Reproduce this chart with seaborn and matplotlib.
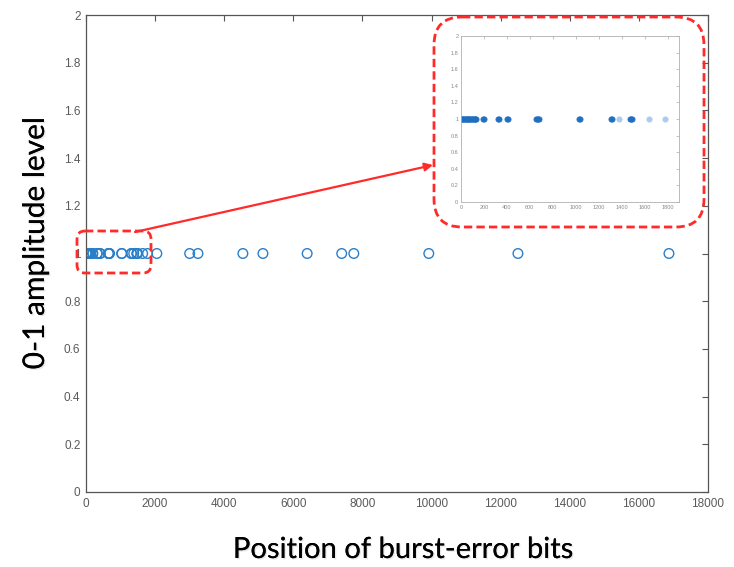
import matplotlib
matplotlib.use('Agg')
import matplotlib.pyplot as plt
import matplotlib.patheffects as pe
from matplotlib.patches import FancyBboxPatch
import seaborn as sns

# burst-error bit positions (all at amplitude level 1)
positions = [5, 12, 20, 28, 35, 42, 50, 58, 65, 72, 80, 88, 95, 102, 110, 118,
             125, 132, 190, 198, 320, 330, 400, 410, 650, 660, 670, 680, 1030,
             1040, 1310, 1320, 1470, 1480, 1490, 2050, 3000, 3240, 4540, 5120,
             6400, 7400, 7750, 9920, 12500, 16870]
faint_positions = [1380, 1640, 1780]
levels = [1] * len(positions)
faint_levels = [1] * len(faint_positions)

x_ticks = list(range(0, 18001, 2000))
y_ticks = [0, 0.2, 0.4, 0.6, 0.8, 1, 1.2, 1.4, 1.6, 1.8, 2]
y_labels = ['0', '0.2', '0.4', '0.6', '0.8', '1', '1.2', '1.4', '1.6', '1.8', '2']
inset_x_ticks = list(range(0, 1801, 200))

blue = '#2a7fc9'

sns.set_style('white')
plt.rcParams['font.family'] = ['Liberation Sans', 'DejaVu Sans']
plt.rcParams['xtick.direction'] = 'in'
plt.rcParams['ytick.direction'] = 'in'

fig = plt.figure(figsize=(7.34, 5.67), dpi=100)
W, H = 734, 567

# main axes
ax = fig.add_axes([86 / W, 1 - 492 / H, (708 - 86) / W, (492 - 15) / H])
all_x = positions + faint_positions
sns.scatterplot(x=all_x, y=[1] * len(all_x), ax=ax, marker='o', s=48,
                facecolors='none', edgecolor=blue, linewidth=1.0)
ax.set_xlim(0, 18000)
ax.set_ylim(0, 2)
ax.set_xticks(x_ticks)
ax.set_xticklabels([str(t) for t in x_ticks])
ax.set_yticks(y_ticks)
ax.set_yticklabels(y_labels)
ax.tick_params(axis='both', labelsize=8.5, labelcolor='#5a5a5a', color='#555555',
               length=4, width=0.8, top=True, right=True, pad=4)
for s in ax.spines.values():
    s.set_color('#555555')
    s.set_linewidth(0.9)

shadow = [pe.withSimplePatchShadow(offset=(1, -1), alpha=0.18, shadow_rgbFace='gray'),
          pe.Normal()]
fig.text(403 / W, 1 - 550 / H, 'Position of burst-error bits', ha='center', va='center',
         fontsize=21, family=['Lato', 'DejaVu Sans'], color='black', path_effects=shadow)
fig.text(35 / W, 1 - 243 / H, '0-1 amplitude level', ha='center', va='center', rotation=90,
         fontsize=21.5, family=['Lato', 'DejaVu Sans'], color='black', path_effects=shadow)

# inset (zoom of the first 1900 bits)
axin = fig.add_axes([461 / W, 1 - 202 / H, (679 - 461) / W, (202 - 36) / H])
sns.scatterplot(x=positions, y=levels, ax=axin, marker='o', s=14,
                color='#1f6fc0', edgecolor='#1f6fc0', linewidth=0.6, alpha=0.9)
sns.scatterplot(x=faint_positions, y=faint_levels, ax=axin, marker='o', s=14,
                color='#a9cdef', edgecolor='#a9cdef', linewidth=0.6)
axin.set_xlim(0, 1900)
axin.set_ylim(0, 2)
axin.set_xticks(inset_x_ticks)
axin.set_yticks(y_ticks)
axin.set_yticklabels(y_labels)
axin.tick_params(axis='both', labelsize=4, labelcolor='#888888', color='#aaaaaa',
                 length=2, width=0.5, top=True, right=True, pad=2)
for s in axin.spines.values():
    s.set_color('#b0b0b0')
    s.set_linewidth(0.6)

# overlay in pixel units for the callout boxes and arrow
ov = fig.add_axes([0, 0, 1, 1], zorder=10)
ov.set_xlim(0, W)
ov.set_ylim(H, 0)
ov.axis('off')
ov.patch.set_alpha(0)
ov.add_patch(FancyBboxPatch((434, 17), 704 - 434, 227 - 17,
                            boxstyle='round,pad=0,rounding_size=28',
                            fill=False, ec='#ff2a2a', lw=2, ls=(0, (3, 1.5))))
ov.add_patch(FancyBboxPatch((77, 231), 151 - 77, 273 - 231,
                            boxstyle='round,pad=0,rounding_size=8',
                            fill=False, ec='#ff2a2a', lw=2, ls=(0, (3, 1.5))))
ov.annotate('', xy=(433, 165), xytext=(135, 232),
            arrowprops=dict(arrowstyle='-|>', color='#ff2a2a', lw=1.6,
                            mutation_scale=12, shrinkA=0, shrinkB=0))

fig.savefig('out.png', dpi=100)
